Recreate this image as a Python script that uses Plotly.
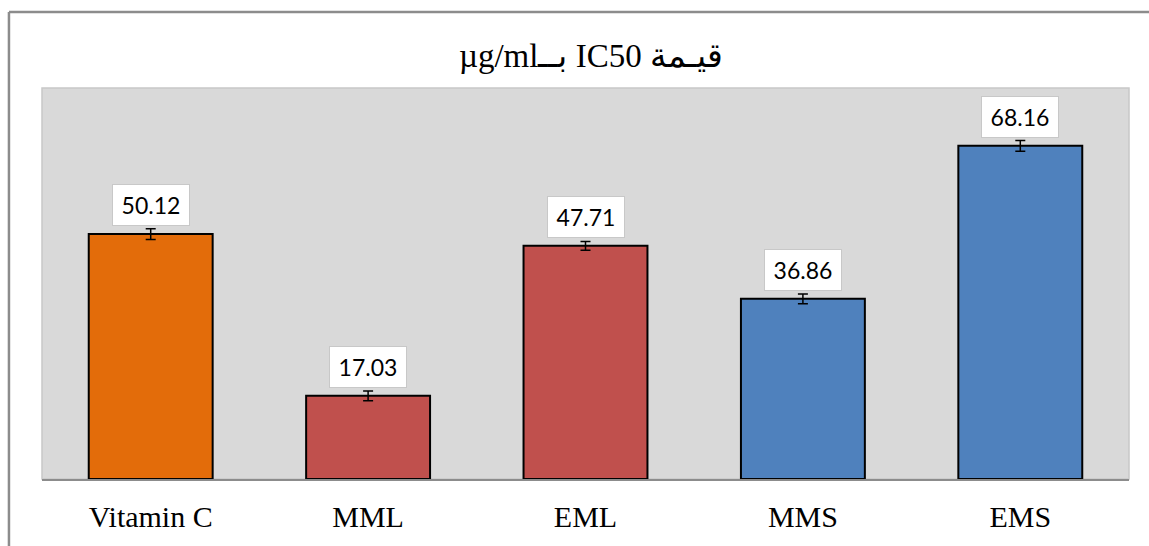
import plotly.graph_objects as go

# IC50 values (µg/ml) and their error margins
categories = ["Vitamin C", "MML", "EML", "MMS", "EMS"]
ic50_values = [50.12, 17.03, 47.71, 36.86, 68.16]
ic50_errors = [1.1, 1.0, 0.9, 1.0, 1.1]
bar_colors = ["#e36c0a", "#c0504d", "#c0504d", "#4f81bd", "#4f81bd"]

title_text = "\u202bقيـمة IC50 بــµg/ml\u202c"

serif = "'Liberation Serif', 'DejaVu Serif', serif"

fig = go.Figure()

fig.add_trace(go.Bar(
    x=categories,
    y=ic50_values,
    marker=dict(color=bar_colors, line=dict(color="#000000", width=2)),
    error_y=dict(type="data", array=ic50_errors, color="#000000",
                 thickness=1.5, width=5),
    width=0.57,
    hoverinfo="x+y",
))

# value labels in white boxes above each bar
for cat, val in zip(categories, ic50_values):
    fig.add_annotation(
        x=cat, y=val, xref="x", yref="y",
        text=f"{val:.2f}",
        showarrow=False,
        yanchor="bottom",
        yshift=8,
        width=66,
        height=30,
        font=dict(family="Lato, 'Open Sans', sans-serif", size=23, color="#000000"),
        bgcolor="#ffffff",
        bordercolor="#c8c8c8",
        borderwidth=1,
        borderpad=5,
    )

# outer chart frame (top and left edges)
fig.add_shape(type="line", xref="paper", yref="paper",
              x0=-0.0304, x1=1.02, y0=1.1944, y1=1.1944,
              line=dict(color="#8c8c8c", width=2.5))
fig.add_shape(type="line", xref="paper", yref="paper",
              x0=-0.0304, x1=-0.0304, y0=1.1944, y1=-0.2,
              line=dict(color="#8c8c8c", width=2.5))

fig.update_layout(
    width=1149,
    height=546,
    margin=dict(l=42, r=20, t=88, b=67),
    paper_bgcolor="#ffffff",
    plot_bgcolor="#d9d9d9",
    showlegend=False,
    bargap=0.43,
    title=dict(
        text=title_text,
        x=0.505, xref="paper", xanchor="center",
        y=1 - 55 / 546, yanchor="middle",
        font=dict(family=serif, size=33, color="#000000"),
    ),
    xaxis=dict(
        showgrid=False,
        showline=True,
        linecolor="#8c8c8c",
        linewidth=2,
        ticks="",
        tickfont=dict(family=serif, size=30, color="#000000"),
        ticklabelstandoff=10,
        mirror=False,
    ),
    yaxis=dict(
        range=[0, 80],
        showgrid=False,
        showticklabels=False,
        zeroline=False,
        showline=False,
        ticks="",
    ),
)

# light border around the plot area
fig.add_shape(type="rect", xref="paper", yref="paper",
              x0=0, x1=1, y0=0, y1=1,
              line=dict(color="#c8c8c8", width=1.5), layer="below")

fig.write_html("out.html")
